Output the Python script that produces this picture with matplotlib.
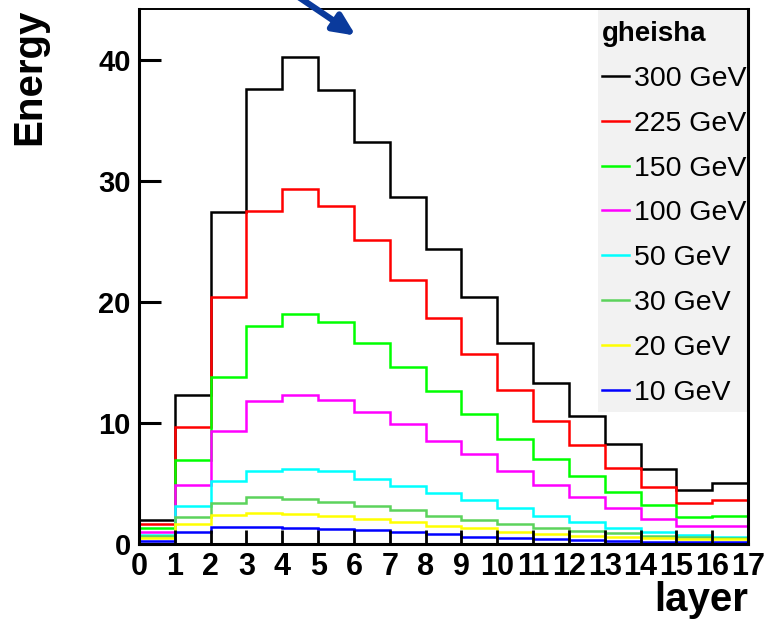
import numpy as np
import matplotlib.pyplot as plt
from matplotlib import font_manager
from matplotlib.patches import Rectangle

plt.rcParams['font.family'] = ['Liberation Sans', 'DejaVu Sans']

# layer bins 0..17
edges = np.arange(0, 18)

e300 = [2.0, 12.3, 27.4, 37.6, 40.2, 37.5, 33.2, 28.7, 24.4, 20.4, 16.6, 13.3, 10.6, 8.3, 6.2, 4.5, 5.0]
e225 = [1.65, 9.7, 20.4, 27.5, 29.3, 27.9, 25.1, 21.8, 18.7, 15.7, 12.7, 10.2, 8.2, 6.3, 4.7, 3.4, 3.6]
e150 = [1.35, 6.9, 13.8, 18.0, 19.0, 18.3, 16.6, 14.6, 12.6, 10.7, 8.7, 7.0, 5.6, 4.3, 3.2, 2.2, 2.3]
e100 = [1.02, 4.9, 9.3, 11.8, 12.3, 11.9, 10.9, 9.9, 8.5, 7.4, 6.0, 4.9, 3.9, 2.95, 2.1, 1.5, 1.5]
e50 = [0.77, 3.1, 5.2, 6.0, 6.2, 6.0, 5.4, 4.8, 4.2, 3.6, 3.0, 2.3, 1.85, 1.3, 0.97, 0.74, 0.6]
e30 = [0.65, 2.2, 3.4, 3.85, 3.75, 3.5, 3.15, 2.8, 2.3, 2.0, 1.65, 1.3, 1.07, 0.88, 0.7, 0.55, 0.5]
e20 = [0.52, 1.65, 2.4, 2.6, 2.5, 2.3, 2.05, 1.8, 1.5, 1.35, 1.02, 0.83, 0.66, 0.55, 0.47, 0.4, 0.38]
e10 = [0.27, 1.0, 1.38, 1.38, 1.35, 1.24, 1.13, 1.0, 0.8, 0.6, 0.5, 0.43, 0.35, 0.26, 0.2, 0.18, 0.17]

labels = ['300 GeV', '225 GeV', '150 GeV', '100 GeV', '50 GeV', '30 GeV', '20 GeV', '10 GeV']
series = [e300, e225, e150, e100, e50, e30, e20, e10]
colors = ['black', '#ff0000', '#00ff00', '#ff00ff', '#00ffff', '#5cd35c', '#ffff00', '#0000ff']

fig = plt.figure(figsize=(7.65, 6.21), dpi=100)
ax = fig.add_axes([0.1817, 0.124, 0.7961, 0.8615])

for vals, col, lab in zip(series, colors, labels):
    ax.stairs(vals, edges, color=col, linewidth=1.8, label=lab, baseline=None)

ax.set_xlim(0, 17)
ax.set_ylim(0, 44.2)
ax.set_xticks(edges)
ax.set_yticks([0, 10, 20, 30, 40])
ax.tick_params(axis='x', direction='in', length=10, width=2, pad=6)
ax.tick_params(axis='y', direction='in', length=16, width=2.2, labelsize=21, pad=6)

# x labels are drawn narrow and tall in the original
names = {f.name for f in font_manager.fontManager.ttflist}
if 'Liberation Sans Narrow' in names:
    xfont, xsize = 'Liberation Sans Narrow', 26
else:
    xfont, xsize = 'Liberation Sans', 22
for t in ax.get_xticklabels():
    t.set_fontfamily(xfont)
    t.set_fontsize(xsize)
    t.set_fontweight('bold')
for t in ax.get_yticklabels():
    t.set_fontweight('bold')

for side in ['left', 'bottom', 'right']:
    ax.spines[side].set_linewidth(2.2)
ax.spines['top'].set_linewidth(1.4)

ax.set_ylabel('Energy', fontsize=29, fontweight='bold', loc='top')
ax.yaxis.set_label_coords(-0.149, 1.0)
ax.set_xlabel('layer', fontsize=29, fontweight='bold', loc='right')
ax.xaxis.set_label_coords(1.0, -0.07)

# legend background
ax.add_patch(Rectangle((0.754, 0.247), 0.246, 0.753, transform=ax.transAxes,
                       facecolor='#f2f2f2', edgecolor='none', zorder=0))
leg = ax.legend(loc='upper right', bbox_to_anchor=(1.012, 0.993), borderaxespad=0,
                frameon=False, fontsize=20.5, title='gheisha', handlelength=0.95,
                handletextpad=0.2, labelspacing=0.66, borderpad=0.3)
leg.get_title().set_fontweight('bold')
leg.get_title().set_fontsize(20)
leg._legend_box.align = 'left'

# arrow pointing into the plot from above
ax.annotate('', xy=(6.05, 42.0), xytext=(4.35, 45.4),
            arrowprops=dict(arrowstyle='-|>,head_length=1.3,head_width=0.6',
                            color='#0a3a9c', lw=4.5, shrinkA=0, shrinkB=0),
            annotation_clip=False)

fig.savefig('out.png', dpi=100)
